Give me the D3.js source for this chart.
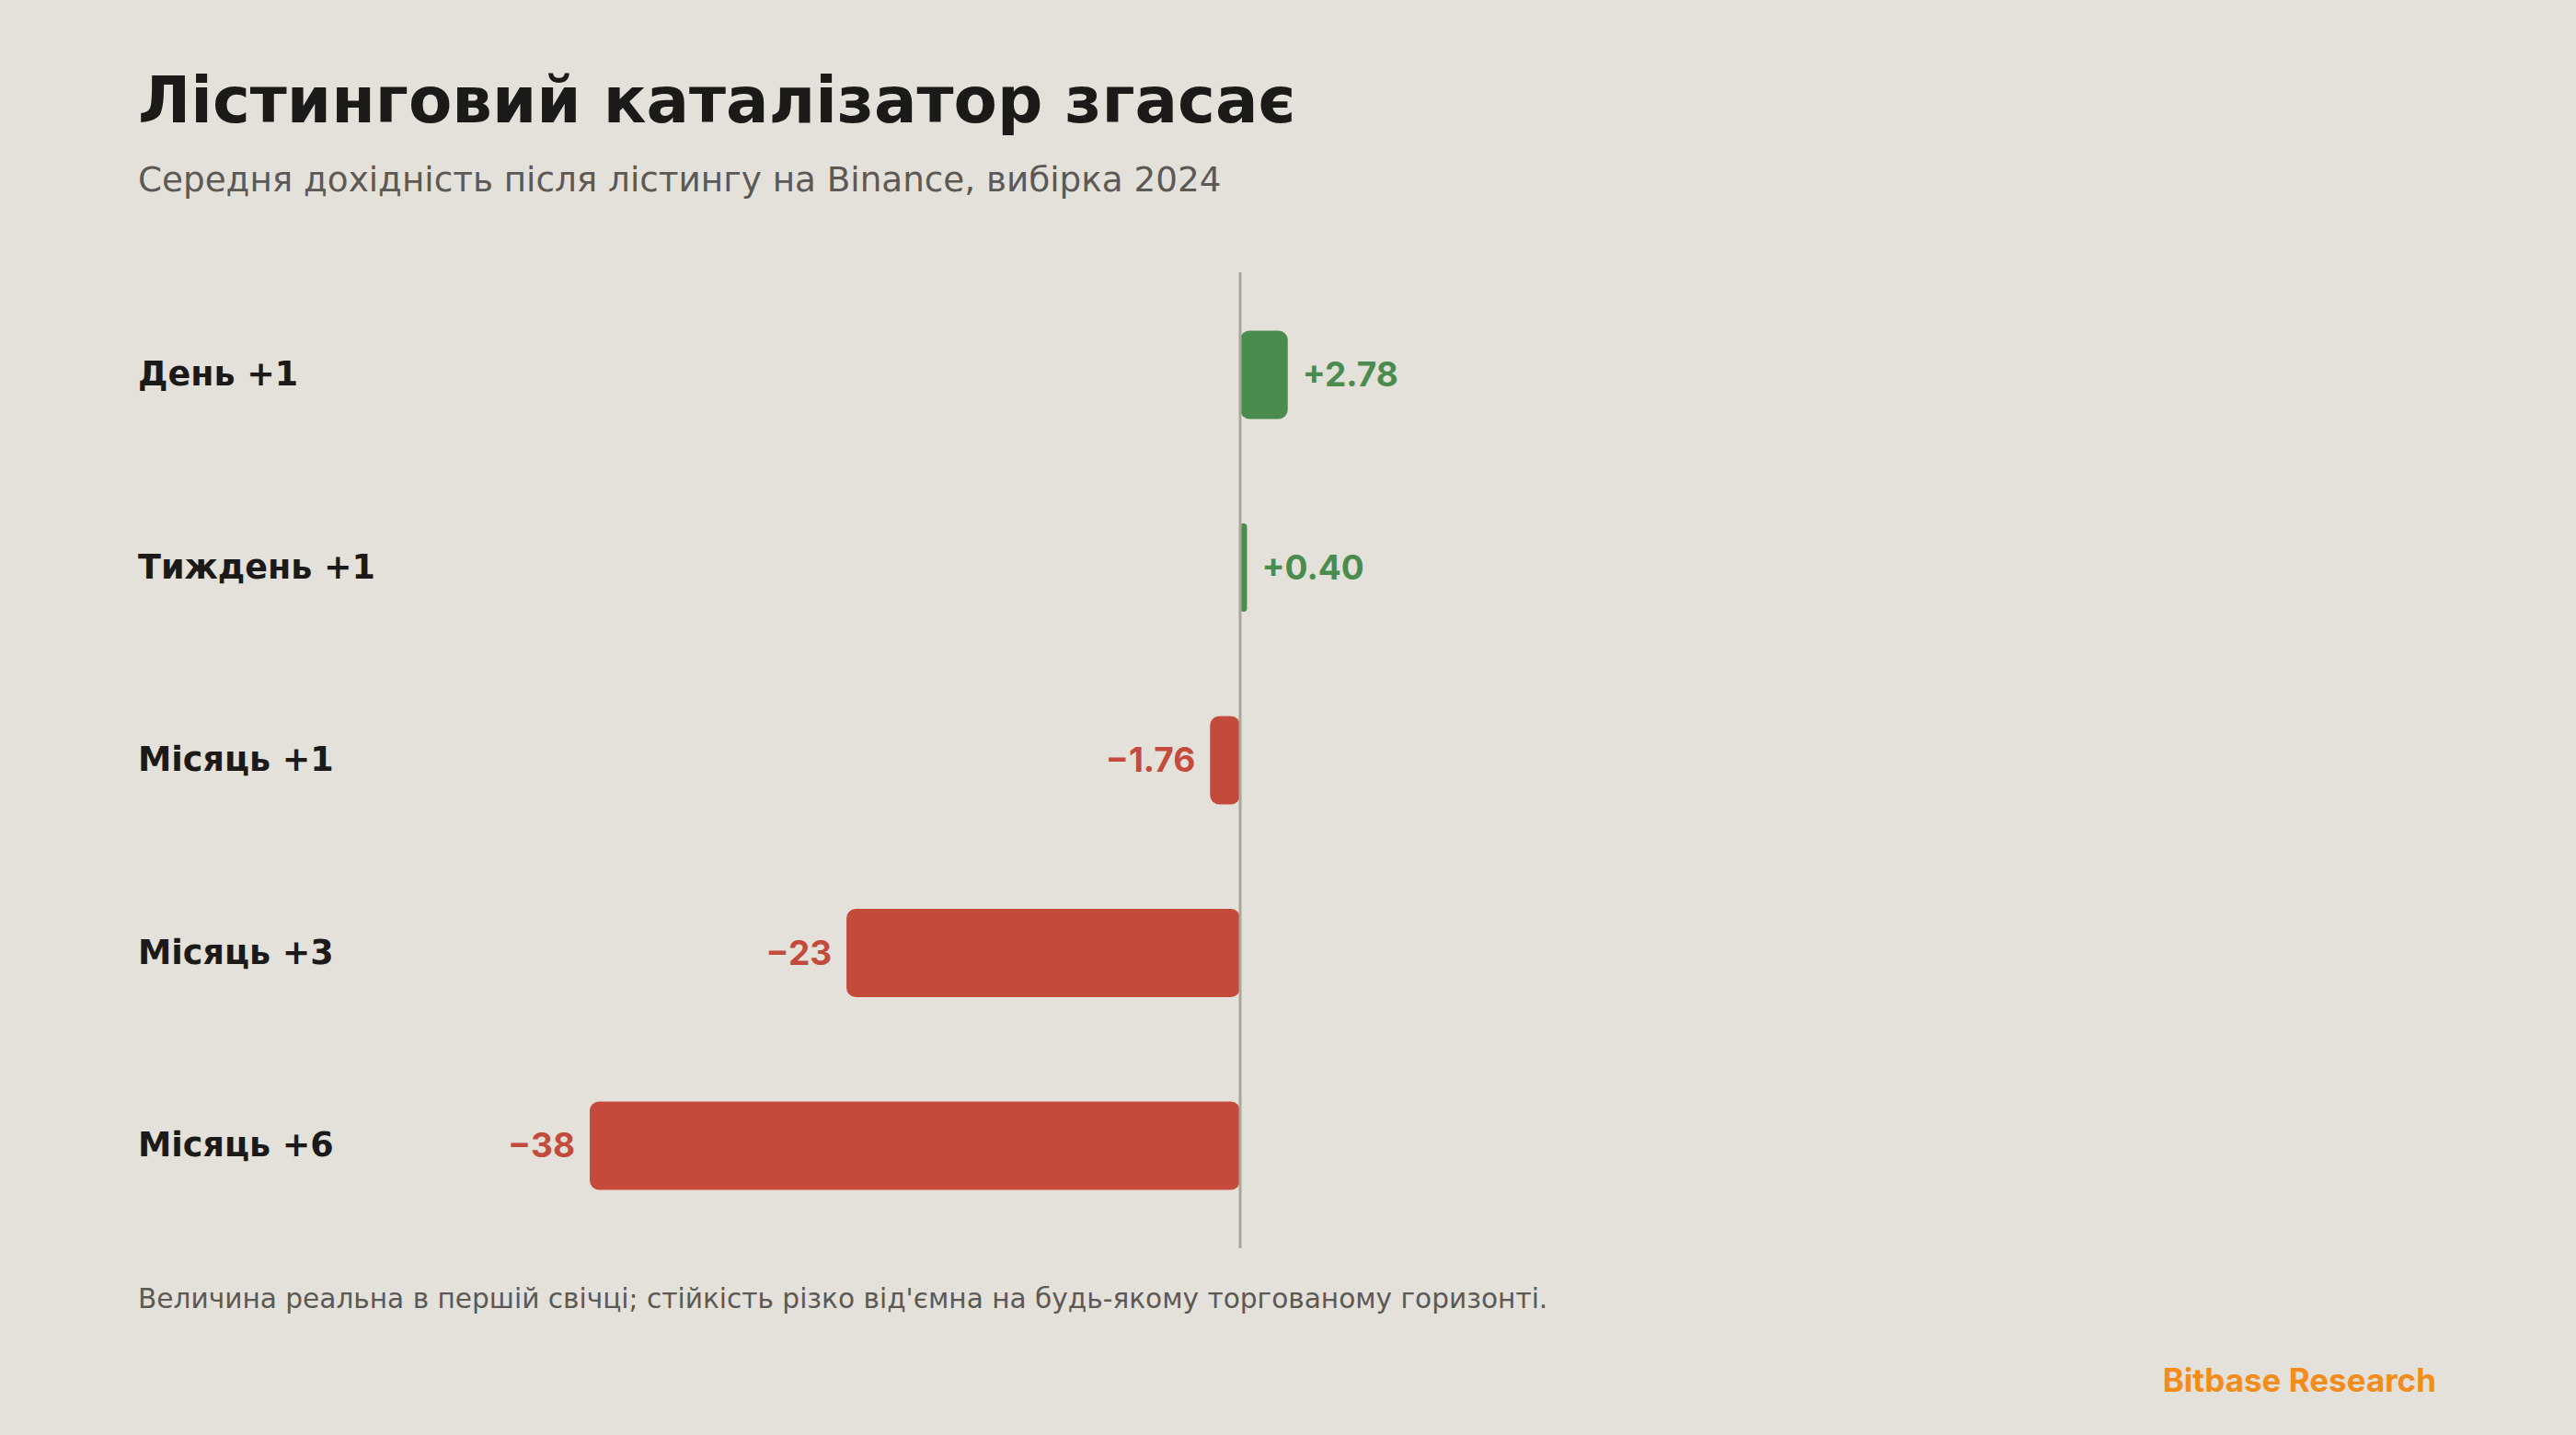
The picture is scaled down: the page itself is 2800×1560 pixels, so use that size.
<!DOCTYPE html>
<html>
<head>
<meta charset="utf-8">
<script src="https://cdn.jsdelivr.net/npm/d3@7"></script>
<style>
  body{margin:0;background:#e4e0da;}
  svg{display:block;}
</style>
</head>
<body>
<svg class="graph"></svg>
<script>
// data
let categories=['День +1','Тиждень +1','Місяць +1','Місяць +3','Місяць +6']
let values=[2.78,0.40,-1.76,-23,-38]
let valueLabels=['+2.78','+0.40','\u22121.76','\u221223','\u221238']

let width=2800, height=1560
let svg=d3.select('.graph').attr('width',width).attr('height',height)
let green='#4a8b4e', red='#c44a3b'

svg.append('rect').attr('width',width).attr('height',height).attr('fill','#e4e0da')

// titles
svg.append('text').attr('x',150).attr('y',133)
   .text('Лістинговий каталізатор згасає')
   .style('font-family','DejaVu Sans').style('font-weight',700).style('font-size','69px')
   .attr('fill','#1b1a18')
svg.append('text').attr('x',150).attr('y',208)
   .text('Середня дохідність після лістингу на Binance, вибірка 2024')
   .style('font-family','DejaVu Sans').style('font-size','37.3px')
   .attr('fill','#5c5955')

let xscale=d3.scaleLinear().domain([-38,0]).range([641,1348])
let yscale=d3.scaleBand().domain(categories).range([296,1357])
             .paddingInner(0.542).paddingOuter(0.303)

let data=categories.map((c,i)=>({name:c,value:values[i],label:valueLabels[i]}))

// bars
svg.selectAll('.bar')
   .data(data)
   .join('rect')
   .attr('class','bar')
   .attr('x',d=>xscale(Math.min(0,d.value)))
   .attr('y',d=>yscale(d.name))
   .attr('width',d=>Math.abs(xscale(d.value)-xscale(0)))
   .attr('height',yscale.bandwidth())
   .attr('rx',d=>Math.min(10,Math.abs(xscale(d.value)-xscale(0))/2))
   .attr('fill',d=>d.value>=0?green:red)

// zero line
svg.append('line')
   .attr('x1',xscale(0)).attr('x2',xscale(0))
   .attr('y1',296).attr('y2',1357)
   .attr('stroke','#aaa69c').attr('stroke-width',3)

// category labels
svg.selectAll('.cat')
   .data(data)
   .join('text')
   .attr('class','cat')
   .attr('x',150)
   .attr('y',d=>yscale(d.name)+yscale.bandwidth()/2)
   .attr('dy','0.32em')
   .text(d=>d.name)
   .style('font-family','DejaVu Sans').style('font-weight',700).style('font-size','36.5px')
   .attr('fill','#1b1a18')

// value labels
svg.selectAll('.val')
   .data(data)
   .join('text')
   .attr('class','val')
   .attr('x',d=>d.value>=0?xscale(d.value)+16:xscale(d.value)-16)
   .attr('y',d=>yscale(d.name)+yscale.bandwidth()/2)
   .attr('dy','0.35em')
   .attr('text-anchor',d=>d.value>=0?'start':'end')
   .text(d=>d.label)
   .style('font-family','Inter').style('font-weight',700).style('font-size','37px')
   .attr('fill',d=>d.value>=0?green:red)

// footnote
svg.append('text').attr('x',150).attr('y',1422)
   .text('Величина реальна в першій свічці; стійкість різко від\'ємна на будь-якому торгованому горизонті.')
   .style('font-family','DejaVu Sans').style('font-size','29.6px')
   .attr('fill','#5c5955')

svg.append('text').attr('x',2648).attr('y',1513)
   .attr('text-anchor','end')
   .text('Bitbase Research')
   .style('font-family','Inter').style('font-weight',700).style('font-size','35px')
   .attr('fill','#f28c1a')
</script>
</body>
</html>
